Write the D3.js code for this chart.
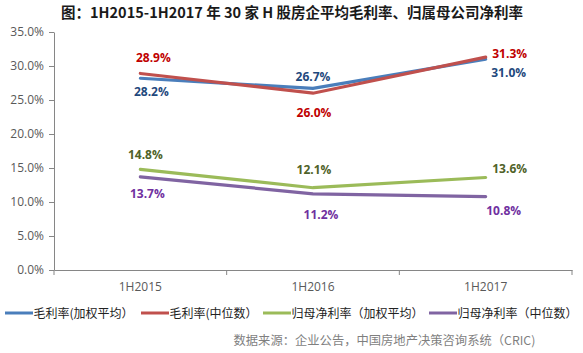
<!DOCTYPE html>
<html><head><meta charset="utf-8">
<script src="https://cdn.jsdelivr.net/npm/d3@7"></script>
<style>
body{margin:0;background:#fff;}
svg text{font-family:"Noto Sans CJK SC","Open Sans",sans-serif;}
</style></head>
<body><svg id="c" width="583" height="353"></svg>
<script>
const categories = ["1H2015","1H2016","1H2017"];
const seriesNames = ["毛利率(加权平均）","毛利率(中位数）","归母净利率（加权平均）","归母净利率（中位数）"];
const grossWeighted = [28.2, 26.7, 31.0];
const grossMedian = [28.9, 26.0, 31.3];
const netWeighted = [14.8, 12.1, 13.6];
const netMedian = [13.7, 11.2, 10.8];
const yTicks = [0,5,10,15,20,25,30,35];
const title = "图：1H2015-1H2017 年 30 家 H 股房企平均毛利率、归属母公司净利率";
const source = "数据来源：企业公告，中国房地产决策咨询系统（CRIC)";

const lineColors = ["#4A7EBB","#C0504D","#9BBB59","#8064A2"];
const labelColors = ["#1F497D","#C00000","#4F6228","#7030A0"];
const series = [grossWeighted, grossMedian, netWeighted, netMedian];
// label centre offsets per series per point [dx, dy] relative to point
const labelOffsets = [
  [[11,13.5],[0,-11.7],[23,14]],
  [[13,-15.8],[1,19.5],[24,-3.2]],
  [[5,-14.4],[1,-18.4],[24,-8.5]],
  [[7,17],[8,20.5],[18,14]]
];

const svg = d3.select("#c");
const x = d3.scaleBand().domain(categories).range([54,572]);
const y = d3.scaleLinear().domain([0,35]).range([270,32]);

svg.append("text").attr("x",292).attr("y",17.5).attr("text-anchor","middle")
  .attr("font-size",14.5).attr("font-weight","bold").attr("fill","#1a1a1a").text(title);

const ya = svg.append("g").attr("transform","translate(54,0)")
  .call(d3.axisLeft(y).tickValues(yTicks).tickFormat(d=>d.toFixed(1)+"%").tickSize(5).tickSizeOuter(0));
ya.select(".domain").attr("stroke","#868686");
ya.selectAll(".tick line").attr("stroke","#868686");
ya.selectAll(".tick text").attr("font-size",12).attr("fill","#595959").attr("x",-10)
  .style("font-family","'Open Sans',sans-serif");

const xa = svg.append("g").attr("transform","translate(0,270)")
  .call(d3.axisBottom(x).tickSize(0).tickSizeOuter(0));
xa.select(".domain").attr("stroke","#868686");
xa.selectAll(".tick text").attr("font-size",12).attr("fill","#595959").attr("y",12)
  .style("font-family","'Open Sans',sans-serif");
const bounds = [0,1,2,3].map(i=>54+i*x.step());
svg.append("g").selectAll("line").data(bounds).join("line")
  .attr("x1",d=>d).attr("x2",d=>d).attr("y1",270).attr("y2",275).attr("stroke","#868686");

const line = d3.line().x((d,i)=>x(categories[i])+x.bandwidth()/2).y(d=>y(d));
series.forEach((s,k)=>{
  svg.append("path").datum(s).attr("d",line).attr("fill","none")
    .attr("stroke",lineColors[k]).attr("stroke-width",3.2).attr("stroke-linecap","round");
});
series.forEach((s,k)=>{
  svg.append("g").selectAll("text").data(s).join("text")
    .attr("x",(d,i)=>x(categories[i])+x.bandwidth()/2+labelOffsets[k][i][0])
    .attr("y",(d,i)=>y(d)+labelOffsets[k][i][1])
    .attr("dy","0.35em")
    .attr("text-anchor","middle").attr("font-size",12).attr("font-weight","bold")
    .attr("fill",labelColors[k]).style("font-family","'Open Sans',sans-serif")
    .text(d=>d.toFixed(1)+"%");
});

// legend
const legendX = [5,141,263,429];
const lg = svg.append("g");
seriesNames.forEach((n,k)=>{
  const g = lg.append("g").attr("transform",`translate(${legendX[k]},313)`);
  g.append("line").attr("x1",0).attr("x2",28).attr("stroke",lineColors[k]).attr("stroke-width",3);
  g.append("text").attr("x",28.5).attr("y",4.5).attr("font-size",12).attr("fill","#222").text(n);
});

svg.append("text").attr("x",233.5).attr("y",345).attr("font-size",12.3).attr("fill","#7f7f7f").text(source);
</script></body></html>
